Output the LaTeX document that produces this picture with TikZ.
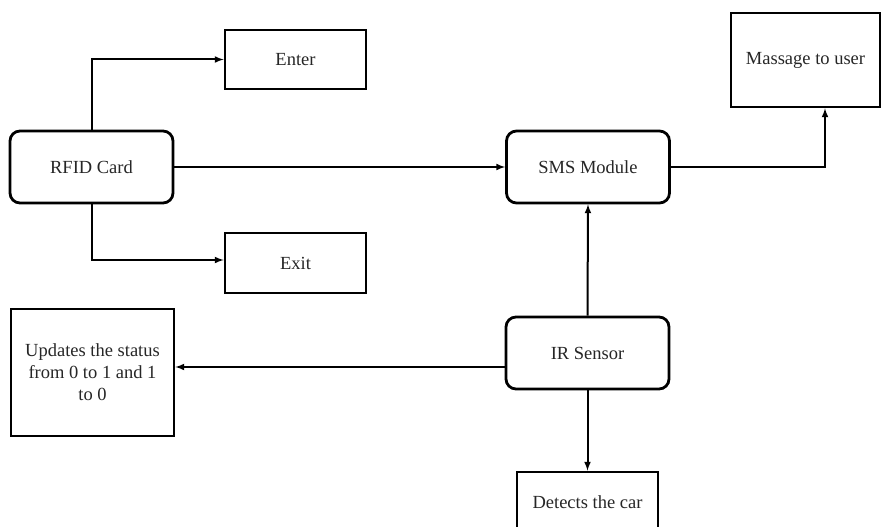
\documentclass[tikz,border=0pt]{standalone}
\usepackage{fontspec}
\setmainfont{Liberation Serif}
\usetikzlibrary{arrows}
\usetikzlibrary{positioning}

\begin{document}
\begin{tikzpicture}[x=1pt,y=-1pt,line width=2pt,font=\fontsize{18.5}{22}\selectfont,
  block/.style={rectangle,draw,line width=2.8pt,inner sep=0pt,align=center,text=black!85},
  unit/.style={rectangle,rounded corners=10pt,draw,line width=2.8pt,inner sep=0pt,
    minimum width=163pt,minimum height=72pt,text=black!85}]
\useasboundingbox (0,0) rectangle (883,527);
\node [unit] (rfid) at (91.5,167) {RFID Card};
\node [block,minimum width=141pt,minimum height=59pt] (enter) at (295.5,59.5) {Enter};
\node [block,minimum width=141pt,minimum height=60pt] (exit) at (295.5,263) {Exit};
\node [unit] (sms) at (588,167) {SMS Module};
\node [block,minimum width=149pt,minimum height=94pt] (msg) at (805.5,60) {Massage to user};
\node [unit] (ir) at (587.5,353) {IR Sensor};
\node [block,minimum width=163pt,minimum height=127pt] (update) at (92.5,372.5)
  {Updates the status\\from 0 to 1 and 1\\to 0};
\node [block,minimum width=141pt,minimum height=60pt] (detect) at (587.5,502) {Detects the car};

\draw [-latex] (rfid.north) |- (enter.west);
\draw [-latex] (rfid.south) |- ([yshift=3pt]exit.west);
\draw [-latex] (rfid.east) -- (sms.west);
\draw [-latex] (sms.east) -| ([xshift=19.5pt]msg.south);
\draw [-latex] (ir.north) -- (sms.south);
\draw [-latex] ([yshift=-14pt]ir.west) -- ([yshift=-14pt]ir.west -| update.east);
\draw [-latex] (ir.south) -- (detect.north);
\end{tikzpicture}
\end{document}
